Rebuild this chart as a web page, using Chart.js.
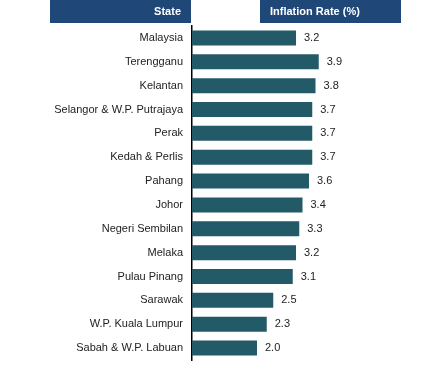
<!DOCTYPE html>
<html>
<head>
<meta charset="utf-8">
<script src="https://cdn.jsdelivr.net/npm/chart.js@4"></script>
<style>
html,body{margin:0;padding:0;background:#fff;}
#wrap{width:445px;height:382px;position:relative;}
</style>
</head>
<body>
<div id="wrap"><canvas id="c" width="445" height="382"></canvas></div>
<script>
const states = ["Malaysia","Terengganu","Kelantan","Selangor & W.P. Putrajaya","Perak","Kedah & Perlis","Pahang","Johor","Negeri Sembilan","Melaka","Pulau Pinang","Sarawak","W.P. Kuala Lumpur","Sabah & W.P. Labuan"];
const inflation = [3.2,3.9,3.8,3.7,3.7,3.7,3.6,3.4,3.3,3.2,3.1,2.5,2.3,2.0];
const headerLabels = ["State","Inflation Rate (%)"];

const FONT = "'Liberation Sans', Arial, sans-serif";

const headerPlugin = {
  id: 'header',
  afterDraw(chart) {
    const ctx = chart.ctx;
    ctx.save();
    ctx.fillStyle = '#1F4778';
    ctx.fillRect(50, 0, 141, 23);
    ctx.fillRect(260, 0, 141, 23);
    ctx.fillStyle = '#ffffff';
    ctx.font = "bold 11px " + FONT;
    ctx.textBaseline = 'middle';
    ctx.textAlign = 'right';
    ctx.fillText(headerLabels[0], 181, 12);
    ctx.textAlign = 'left';
    ctx.fillText(headerLabels[1], 270, 12);
    ctx.restore();
  }
};

const valuePlugin = {
  id: 'values',
  afterDatasetsDraw(chart) {
    const ctx = chart.ctx;
    const meta = chart.getDatasetMeta(0);
    ctx.save();
    ctx.fillStyle = '#222222';
    ctx.font = "11px " + FONT;
    ctx.textBaseline = 'middle';
    ctx.textAlign = 'left';
    meta.data.forEach((bar, i) => {
      ctx.fillText(inflation[i].toFixed(1), bar.x + 8, bar.y);
    });
    ctx.restore();
  }
};

new Chart(document.getElementById('c'), {
  type: 'bar',
  data: {
    labels: states,
    datasets: [{
      data: inflation,
      backgroundColor: '#235A68',
      borderWidth: 0,
      categoryPercentage: 1,
      barPercentage: 0.63
    }]
  },
  options: {
    indexAxis: 'y',
    responsive: false,
    animation: false,
    layout: { padding: { top: 26, bottom: 22, right: 25.5, left: 0 } },
    plugins: { legend: { display: false }, tooltip: { enabled: false } },
    scales: {
      x: { display: false, min: 0, max: 7 },
      y: {
        afterFit(scale) { scale.width = 192; },
        grid: { display: false, drawTicks: false },
        border: { display: true, color: '#000000', width: 1.5 },
        ticks: { color: '#222222', font: { family: FONT, size: 11 }, padding: 9 }
      }
    }
  },
  plugins: [headerPlugin, valuePlugin]
});
</script>
</body>
</html>
